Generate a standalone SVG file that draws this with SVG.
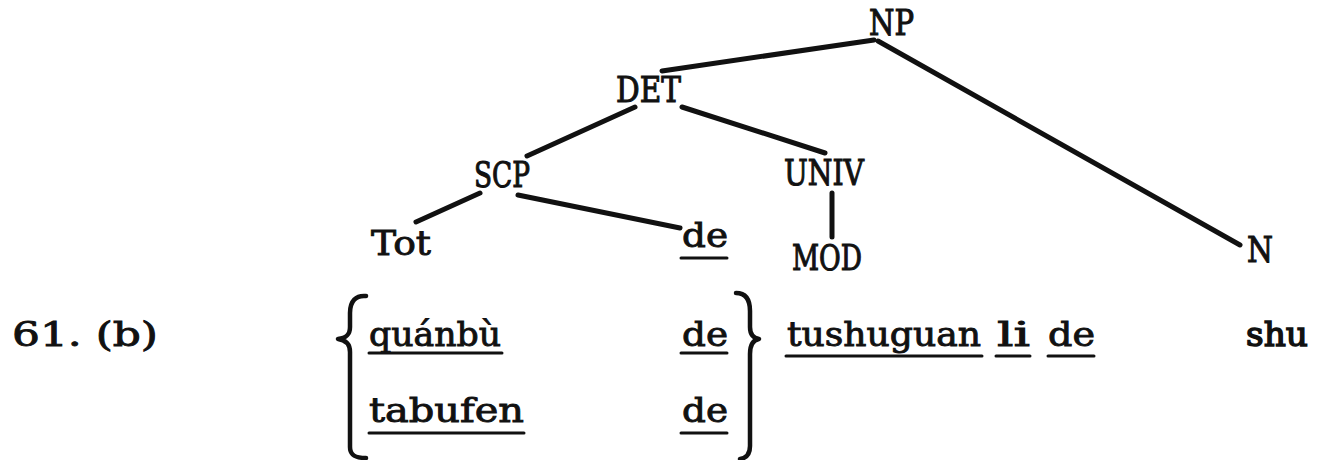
<svg xmlns="http://www.w3.org/2000/svg" width="1320" height="460" viewBox="0 0 1320 460">
<style>
.t{font-family:"DejaVu Serif","Liberation Serif",serif;font-size:34px;fill:#111;stroke:#111;stroke-width:0.9px}
.c{font-family:"DejaVu Serif","Liberation Serif",serif;font-size:32px;fill:#111;stroke:#111;stroke-width:1px}
.h{stroke-width:1.5px}
.e{stroke:#111;stroke-width:5;stroke-linecap:round;fill:none}
.u{stroke:#111;stroke-width:3;stroke-linecap:round}
.b{stroke:#111;stroke-width:4.5;stroke-linecap:round;stroke-linejoin:round;fill:none}
</style>
<rect width="1320" height="460" fill="#fff"/>
<g id="connectors">
<line class="e" x1="662" y1="71" x2="874" y2="40"/>
<line class="e" x1="878" y1="41" x2="1240" y2="245"/>
<line class="e" x1="635" y1="107" x2="527" y2="156"/>
<line class="e" x1="682" y1="107" x2="825" y2="153"/>
<line class="e" x1="480" y1="193" x2="416" y2="222"/>
<line class="e" x1="518" y1="195" x2="680" y2="228"/>
<line class="e" x1="832" y1="193" x2="832" y2="237"/>
</g>
<g id="node-NP"><text class="c" transform="translate(869,35) scale(1,1.08)" textLength="45" lengthAdjust="spacingAndGlyphs">NP</text></g>
<g id="node-DET"><text class="c" transform="translate(616,102) scale(1,1.08)" textLength="65" lengthAdjust="spacingAndGlyphs">DET</text></g>
<g id="node-SCP"><text class="c" transform="translate(474,187) scale(1,1.08)" textLength="56" lengthAdjust="spacingAndGlyphs">SCP</text></g>
<g id="node-UNIV"><text class="c" transform="translate(784,185) scale(1,1.08)" textLength="80" lengthAdjust="spacingAndGlyphs">UNIV</text></g>
<g id="node-Tot"><text class="t" x="371" y="255" textLength="60" lengthAdjust="spacingAndGlyphs">Tot</text></g>
<g id="node-de"><text class="t" x="682" y="247" textLength="46" lengthAdjust="spacingAndGlyphs">de</text><line class="u" x1="681" y1="258" x2="727" y2="258"/></g>
<g id="node-MOD"><text class="c" transform="translate(792,270) scale(1,1.08)" textLength="70" lengthAdjust="spacingAndGlyphs">MOD</text></g>
<g id="node-N"><text class="c" transform="translate(1247,262) scale(1,1.08)" textLength="26" lengthAdjust="spacingAndGlyphs">N</text></g>
<g id="example-label"><text class="t" x="12" y="346" textLength="146" lengthAdjust="spacingAndGlyphs">61. (b)</text></g>
<g id="brace-left"><path class="b" d="M366,296 C356,295 350,301 350,313 L350,327 C350,335 346,338 338,339 C346,340 350,344 350,352 L350,447 C350,455 355,458 366,458"/></g>
<g id="alt-1"><text class="t" x="369" y="346" textLength="132" lengthAdjust="spacingAndGlyphs">quánbù</text><line class="u" x1="369" y1="353" x2="502" y2="353"/>
<text class="t" x="682" y="346" textLength="46" lengthAdjust="spacingAndGlyphs">de</text><line class="u" x1="681" y1="353" x2="727" y2="353"/></g>
<g id="alt-2"><text class="t" x="369" y="422" textLength="155" lengthAdjust="spacingAndGlyphs">tabufen</text><line class="u" x1="369" y1="433" x2="524" y2="433"/>
<text class="t" x="682" y="422" textLength="46" lengthAdjust="spacingAndGlyphs">de</text><line class="u" x1="681" y1="433" x2="727" y2="433"/></g>
<g id="brace-right"><path class="b" d="M736,293 C745,293 750,299 750,311 L750,327 C750,334 753,338 759,339 C753,340 750,345 750,354 L750,446 C750,454 747,458 740,459"/></g>
<g id="mod-text"><text class="t" x="787" y="346" textLength="194" lengthAdjust="spacingAndGlyphs">tushuguan</text><line class="u" x1="786" y1="356" x2="982" y2="356"/>
<text class="t" x="997" y="346" textLength="33" lengthAdjust="spacingAndGlyphs">li</text><line class="u" x1="996" y1="356" x2="1030" y2="356"/>
<text class="t" x="1048" y="346" textLength="47" lengthAdjust="spacingAndGlyphs">de</text><line class="u" x1="1048" y1="356" x2="1094" y2="356"/></g>
<g id="noun-text"><text class="t h" x="1246" y="346" textLength="62" lengthAdjust="spacingAndGlyphs">shu</text></g>
</svg>
